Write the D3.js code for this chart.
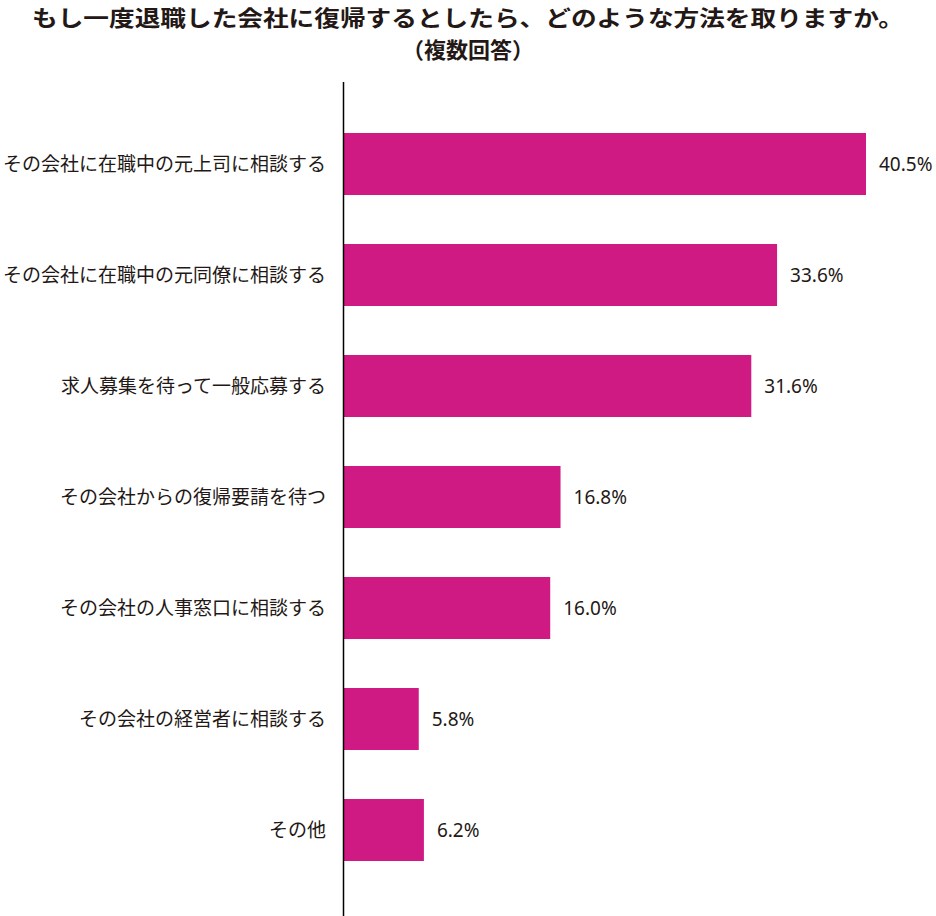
<!DOCTYPE html>
<html><head><meta charset="utf-8">
<script src="https://cdn.jsdelivr.net/npm/d3@7"></script>
<style>
html,body{margin:0;padding:0;background:#fff;}
svg{display:block;}
</style>
</head><body>
<script>
const titleLines = ["もし一度退職した会社に復帰するとしたら、どのような方法を取りますか。", "（複数回答）"];
const categories = [
  "その会社に在職中の元上司に相談する",
  "その会社に在職中の元同僚に相談する",
  "求人募集を待って一般応募する",
  "その会社からの復帰要請を待つ",
  "その会社の人事窓口に相談する",
  "その会社の経営者に相談する",
  "その他"
];
const values = [40.5, 33.6, 31.6, 16.8, 16.0, 5.8, 6.2];
const valueLabels = ["40.5%", "33.6%", "31.6%", "16.8%", "16.0%", "5.8%", "6.2%"];

const W = 936, H = 916;
const svg = d3.select("body").append("svg").attr("width", W).attr("height", H);

const x0 = 344;
const x = d3.scaleLinear().domain([0, 40.5]).range([x0, 866]);
const y = d3.scaleBand().domain(categories).range([108.5, 885.5]).paddingInner(0.4414).paddingOuter(0.2207);

const textColor = "#231815";
const barColor = "#D01A83";

// title
svg.append("text").attr("x", 468).attr("y", 26).attr("text-anchor", "middle")
  .attr("font-family", "'Noto Sans CJK JP'").attr("font-weight", "bold").attr("font-size", 22)
  .attr("fill", textColor).attr("textLength", 872).attr("lengthAdjust", "spacingAndGlyphs")
  .text(titleLines[0]);
svg.append("text").attr("x", 468).attr("y", 58).attr("text-anchor", "middle")
  .attr("font-family", "'Noto Sans CJK JP'").attr("font-weight", "bold").attr("font-size", 22)
  .attr("fill", textColor)
  .text(titleLines[1]);

// bars
svg.selectAll("rect.bar").data(values).join("rect").attr("class", "bar")
  .attr("x", x0)
  .attr("y", (d, i) => y(categories[i]))
  .attr("width", d => x(d) - x0)
  .attr("height", y.bandwidth())
  .attr("fill", barColor);

// category labels
svg.selectAll("text.cat").data(categories).join("text").attr("class", "cat")
  .attr("x", 326).attr("y", d => y(d) + y.bandwidth() / 2)
  .attr("dy", "0.35em").attr("text-anchor", "end")
  .attr("font-family", "'Noto Sans CJK JP'").attr("font-size", 19)
  .attr("fill", textColor).text(d => d);

// value labels
svg.selectAll("text.val").data(values).join("text").attr("class", "val")
  .attr("x", d => x(d) + 13).attr("y", (d, i) => y(categories[i]) + y.bandwidth() / 2)
  .attr("dy", "0.35em")
  .attr("font-family", "'Noto Sans'").attr("font-size", 19)
  .attr("fill", textColor).text((d, i) => valueLabels[i]);

// axis line
svg.append("line").attr("x1", 343.5).attr("x2", 343.5).attr("y1", 82).attr("y2", 916)
  .attr("stroke", "#000").attr("stroke-width", 1.5);
</script>
</body></html>
